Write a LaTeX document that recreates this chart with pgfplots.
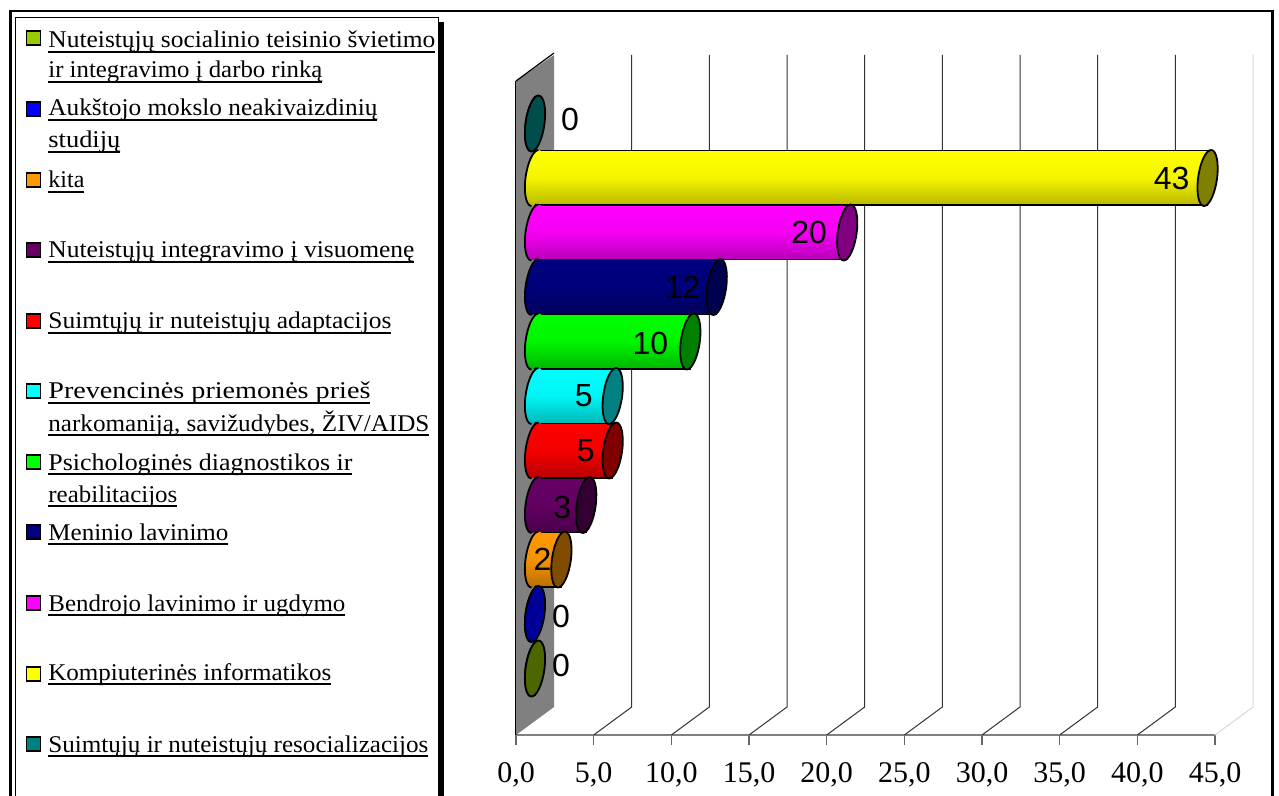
\documentclass[border=0pt]{standalone}
\usepackage{fontspec}
\usepackage{graphicx}
\usepackage{pgfplots}
\pgfplotsset{compat=1.18}
\setmainfont{Liberation Serif}
\newfontfamily\labfont{Liberation Sans}

% colours: face of the bar, end of the bar
\definecolor{cOliveL}{HTML}{99CC00}
\definecolor{cBlueL}{HTML}{0000FF}
\definecolor{cTealL}{HTML}{008080}
\definecolor{cOlive}{HTML}{4D6600}
\definecolor{cBlueD}{HTML}{000099}
\definecolor{cOrange}{HTML}{FF9900}
\definecolor{cOrangeE}{HTML}{804D00}
\definecolor{cPurple}{HTML}{660066}
\definecolor{cPurpleE}{HTML}{330033}
\definecolor{cRed}{HTML}{FF0000}
\definecolor{cRedE}{HTML}{800000}
\definecolor{cCyan}{HTML}{00FFFF}
\definecolor{cCyanE}{HTML}{008080}
\definecolor{cGreen}{HTML}{00FF00}
\definecolor{cGreenE}{HTML}{008000}
\definecolor{cNavy}{HTML}{000080}
\definecolor{cNavyE}{HTML}{000050}
\definecolor{cMag}{HTML}{FF00FF}
\definecolor{cMagE}{HTML}{800080}
\definecolor{cYel}{HTML}{FFFF00}
\definecolor{cYelE}{HTML}{808000}
\definecolor{cTealD}{HTML}{004D4D}

% left half and right half of the tilted ellipse at the ends of a bar
\def\lefthalf{(1.75pt,14pt) .. controls (-.87pt,14pt) and (-3.78pt,7.73pt) .. (-4.75pt,0pt)
  .. controls (-5.72pt,-7.73pt) and (-4.37pt,-14pt) .. (-1.75pt,-14pt)}
\def\righthalf{.. controls (.87pt,-14pt) and (3.78pt,-7.73pt) .. (4.75pt,0pt)
  .. controls (5.72pt,7.73pt) and (4.37pt,14pt) .. (1.75pt,14pt)}

% round start and round end of a bar, as plot marks
\newcommand\defcyl[3]{%
  \pgfdeclareplotmark{cap-#1}{%
    \shade[draw=none,top color=#2,bottom color=#2!72!black,middle color=#2!96!black]
      \lefthalf \righthalf -- cycle;
    \draw[black,line width=.9pt] \lefthalf;}%
  \pgfdeclareplotmark{tip-#1}{%
    \filldraw[fill=#3,draw=black,line width=.9pt] \lefthalf \righthalf -- cycle;}%
}
\defcyl{teal}{cTealD}{cTealD}
\defcyl{yel}{cYel}{cYelE}
\defcyl{mag}{cMag}{cMagE}
\defcyl{navy}{cNavy}{cNavyE}
\defcyl{green}{cGreen}{cGreenE}
\defcyl{cyan}{cCyan}{cCyanE}
\defcyl{red}{cRed}{cRedE}
\defcyl{purple}{cPurple}{cPurpleE}
\defcyl{orange}{cOrange}{cOrangeE}
\defcyl{blue}{cBlueD}{cBlueD}
\defcyl{olive}{cOlive}{cOlive}

\pgfplotsset{mid/.style={xshift=9.5pt,yshift=6pt}}

% name, position, value, colour, label placement
\newcommand\cyl[5]{%
  \addplot[mid,xbar,bar width=27.25pt,bar shift=0pt,draw=black,line width=.75pt,
    top color=#4,bottom color=#4!72!black,middle color=#4!96!black]
    coordinates {(#3,#2)};
  \addplot[mid,only marks,mark=cap-#1] coordinates {(0,#2)};
  \addplot[mid,only marks,mark=tip-#1,point meta=x,nodes near coords,
    nodes near coords style={font=\labfont\fontsize{16}{16}\selectfont,anchor=center,
      text=black,inner sep=0pt,#5,
      /pgf/number format/assume math mode=true,/pgf/number format/fixed,/pgf/number format/precision=0}]
    coordinates {(#3,#2)};
}

% one underlined legend line, stretched to the width
\newcommand\ul[1]{\setbox0\hbox{#1}\rlap{\rule[-2.6pt]{\wd0}{1pt}}\box0}
\newcommand\lgl[3]{\node[anchor=base west,inner sep=0pt] at (48,#1)
  {\resizebox{#2pt}{\height}{\fontsize{12}{14}\selectfont\ul{#3}}};}
\newcommand\sw[2]{\filldraw[fill=#2,draw=black,line width=.6pt] (26.5,#1-7) rectangle (40.5,#1+7);}

\begin{document}
\begin{tikzpicture}[x=0.5pt,y=-0.5pt]
\path[use as bounding box] (0,0) rectangle (1279,796);
\fill[white] (0,0) rectangle (1279,796);
% chart frame, cut off at the bottom
\draw[black,line width=1.25pt] (10.5,796) -- (10.5,11) -- (1272.5,11) -- (1272.5,796);
% legend box and its shadow
\fill[black] (20,22) rectangle (444,796);
\filldraw[fill=white,draw=black,line width=.5pt] (15.5,796) -- (15.5,17.5) -- (438,17.5) -- (438,796);

\sw{38}{cOliveL}
\lgl{48}{193.5}{Nuteistųjų socialinio teisinio švietimo}
\lgl{78}{137}{ir integravimo į darbo rinką}
\sw{109}{cBlueL}
\lgl{116}{164.5}{Aukštojo mokslo neakivaizdinių}
\lgl{148}{36}{studijų}
\sw{180}{cOrange}
\lgl{188}{18}{kita}
\sw{250}{cPurple}
\lgl{258}{183}{Nuteistųjų integravimo į visuomenę}
\sw{321}{cRed}
\lgl{329}{171.5}{Suimtųjų ir nuteistųjų adaptacijos}
\sw{391}{cCyan}
\lgl{399}{161}{Prevencinės priemonės prieš}
\lgl{431}{190.5}{narkomaniją, savižudybes, ŽIV/AIDS}
\sw{462}{cGreen}
\lgl{470}{152}{Psichologinės diagnostikos ir}
\lgl{502}{64.5}{reabilitacijos}
\sw{532}{cNavy}
\lgl{540}{90}{Meninio lavinimo}
\sw{603}{cMag}
\lgl{611}{148.5}{Bendrojo lavinimo ir ugdymo}
\sw{674}{cYel}
\lgl{680}{141.5}{Kompiuterinės informatikos}
\sw{744}{cTealL}
\lgl{752}{190}{Suimtųjų ir nuteistųjų resocializacijos}

\coordinate (o) at (516,735);
\begin{axis}[
  at={(o)},anchor=south west,
  scale only axis,width=349.5pt,height=327pt,
  xmin=0,xmax=45,ymin=0,ymax=12,
  clip=false,
  axis x line*=bottom,axis y line*=left,
  axis line style={-},
  x axis line style={draw=black!50,line width=.75pt},
  y axis line style={draw=black,line width=.6pt},
  ytick=\empty,
  xtick={0,5,...,45},
  tick align=outside,
  major tick length=5pt,
  xtick style={draw=black!60,line width=.6pt},
  xticklabel style={font=\fontsize{15}{15}\selectfont,inner sep=0pt,yshift=-8.5pt},
  /pgf/number format/.cd,fixed,fixed zerofill,precision=1,use comma,assume math mode=true,
]
% side wall and grid of the 3D box
\fill[black!50] (axis cs:0,0) -- ++(19pt,14pt) -- ++(0pt,326pt) -- (axis cs:0,12) -- cycle;
\draw[black,line width=.6pt] (axis cs:0,12) -- ++(19pt,14pt);
\pgfplotsinvokeforeach{5,10,15,20,25,30,35,40}{
  \draw[black!80,line width=.5pt] (axis cs:#1,0) -- ++(19pt,14pt) -- ++(0pt,326pt);
}
\draw[black!15,line width=.5pt] (axis cs:45,0) -- ++(19pt,14pt) -- ++(0pt,326pt);

\cyl{teal}{11}{0}{cTealD}{xshift=17.5pt,yshift=2pt}
\cyl{yel}{10}{43.3}{cYel}{xshift=-18pt}
\cyl{mag}{9}{20.1}{cMag}{xshift=-19pt}
\cyl{navy}{8}{11.7}{cNavy}{xshift=-17pt}
\cyl{green}{7}{10}{cGreen}{xshift=-20pt,yshift=-1pt}
\cyl{cyan}{6}{5}{cCyan}{xshift=-14.5pt}
\cyl{red}{5}{5}{cRed}{xshift=-13.5pt}
\cyl{purple}{4}{3.3}{cPurple}{xshift=-12pt,yshift=-1pt}
\cyl{orange}{3}{1.7}{cOrange}{xshift=-9.5pt}
\cyl{blue}{2}{0}{cBlueD}{xshift=13pt,yshift=-1pt}
\cyl{olive}{1}{0}{cOlive}{xshift=13pt,yshift=1.5pt}
\end{axis}
\end{tikzpicture}
\end{document}
